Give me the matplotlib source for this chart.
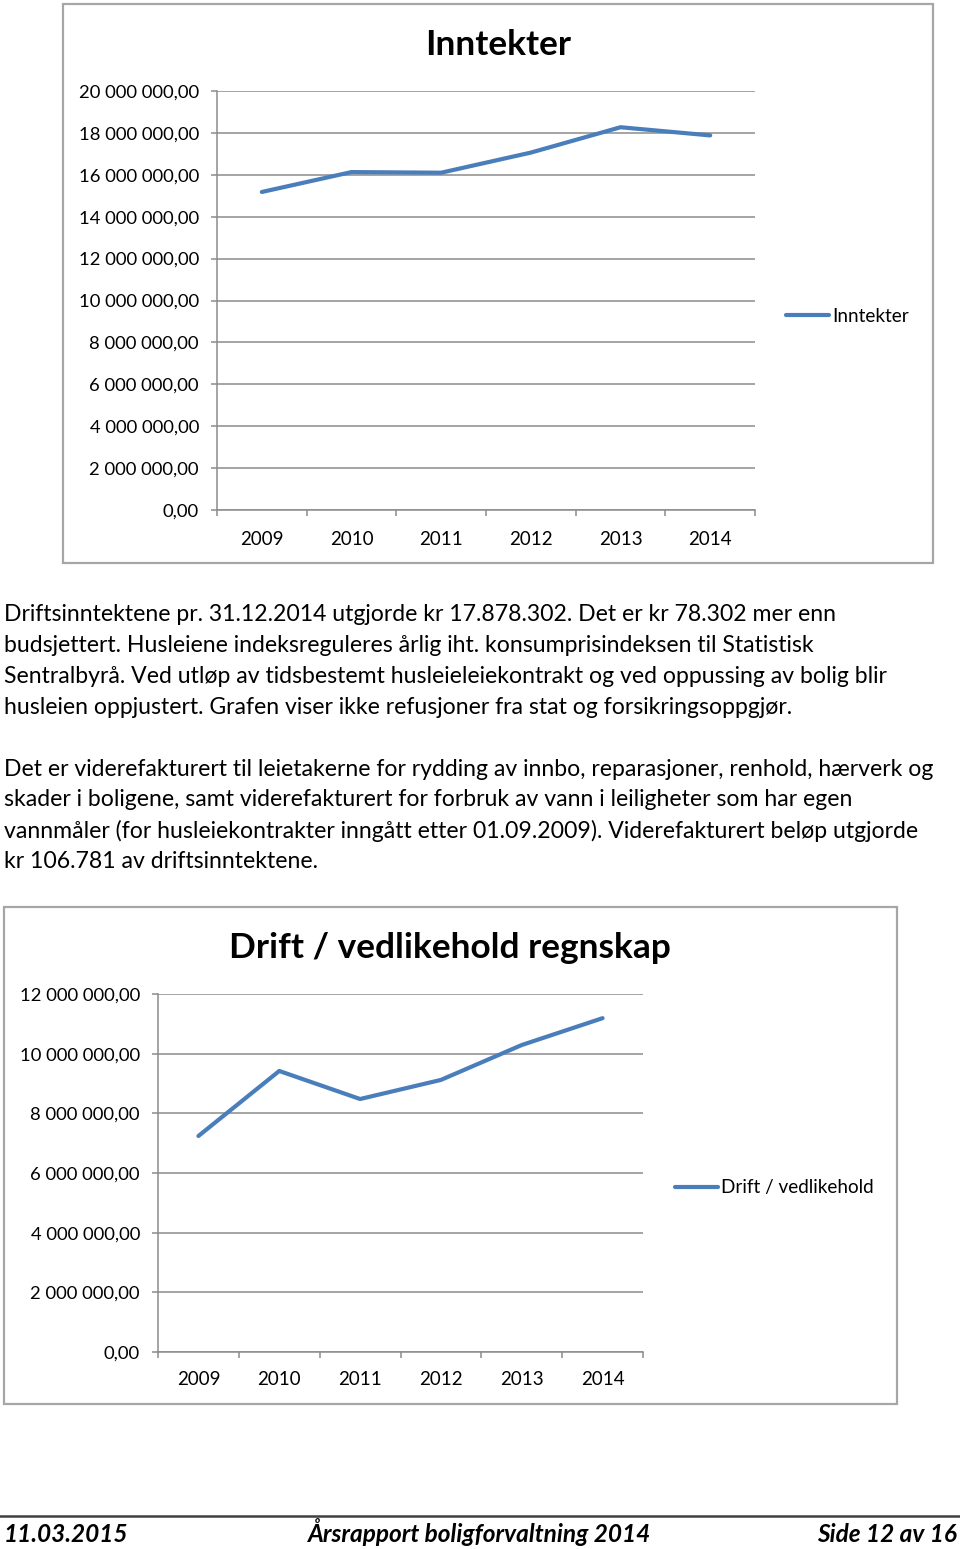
import matplotlib
matplotlib.use("Agg")
import matplotlib.pyplot as plt
from matplotlib.patches import Rectangle
from matplotlib.lines import Line2D
from matplotlib.ticker import FuncFormatter, MultipleLocator, FixedLocator

# ---- data ----
years = ["2009", "2010", "2011", "2012", "2013", "2014"]
inntekter = [15.18e6, 16.13e6, 16.10e6, 17.06e6, 18.27e6, 17.88e6]
drift = [7.24e6, 9.42e6, 8.48e6, 9.12e6, 10.29e6, 11.19e6]

para1 = [
    "Driftsinntektene pr. 31.12.2014 utgjorde kr 17.878.302. Det er kr 78.302 mer enn",
    "budsjettert. Husleiene indeksreguleres årlig iht. konsumprisindeksen til Statistisk",
    "Sentralbyrå. Ved utløp av tidsbestemt husleieleiekontrakt og ved oppussing av bolig blir",
    "husleien oppjustert. Grafen viser ikke refusjoner fra stat og forsikringsoppgjør.",
]
para2 = [
    "Det er viderefakturert til leietakerne for rydding av innbo, reparasjoner, renhold, hærverk og",
    "skader i boligene, samt viderefakturert for forbruk av vann i leiligheter som har egen",
    "vannmåler (for husleiekontrakter inngått etter 01.09.2009). Viderefakturert beløp utgjorde",
    "kr 106.781 av driftsinntektene.",
]
footer = ["11.03.2015", "Årsrapport boligforvaltning 2014", "Side 12 av 16"]

W, H = 960, 1549
FONT = ["Lato", "DejaVu Sans"]
plt.rcParams["font.family"] = FONT

fig = plt.figure(figsize=(W / 100, H / 100), dpi=100)
fig.patch.set_facecolor("white")


def fx(x):
    return x / W


def fy(y):
    return 1 - y / H


LINE_C = "#4a7ebb"
GRID_C = "#8c8c8c"


def fmt(v, pos=None):
    s = f"{v:,.2f}"
    s = s.replace(",", " ").replace(".", ",")
    return s


def make_chart(box, plot, ymax, values, title, title_xy, legend_label, legend_xy, xpad):
    bx0, by0, bx1, by1 = box
    fig.add_artist(Rectangle((fx(bx0), fy(by1)), (bx1 - bx0) / W, (by1 - by0) / H,
                             transform=fig.transFigure, fill=False,
                             edgecolor="#a6a6a6", linewidth=1.6))
    l, t, r, b = plot
    ax = fig.add_axes([fx(l), fy(b), (r - l) / W, (b - t) / H])
    x = list(range(len(years)))
    ax.plot(x, values, color=LINE_C, linewidth=3.0, solid_capstyle="round",
            label=legend_label)
    ax.set_xlim(-0.5, len(years) - 0.5)
    ax.set_ylim(0, ymax)
    ax.yaxis.set_major_locator(MultipleLocator(2e6))
    ax.yaxis.set_major_formatter(FuncFormatter(fmt))
    ax.grid(axis="y", color=GRID_C, linewidth=1.1)
    ax.set_axisbelow(True)
    ax.set_xticks(x)
    ax.set_xticklabels(years)
    ax.xaxis.set_minor_locator(FixedLocator([i - 0.5 for i in range(len(years) + 1)]))
    ax.tick_params(axis="x", which="major", length=0, pad=xpad, labelsize=13.5)
    ax.tick_params(axis="x", which="minor", length=4.5, color=GRID_C, width=1.1)
    ax.tick_params(axis="y", length=4.5, color=GRID_C, width=1.1, pad=8.5, labelsize=13.3)
    for s in ["top", "right"]:
        ax.spines[s].set_visible(False)
    for s in ["left", "bottom"]:
        ax.spines[s].set_color(GRID_C)
        ax.spines[s].set_linewidth(1.1)
    fig.text(fx(title_xy[0]), fy(title_xy[1]), title, ha="center", va="center",
             fontsize=25.4, fontweight="bold")
    ax.legend(loc="center left", bbox_to_anchor=(fx(legend_xy[0]), fy(legend_xy[1])),
              bbox_transform=fig.transFigure, frameon=False, fontsize=13.6,
              handlelength=2.3, handletextpad=0.15, borderpad=0, borderaxespad=0)
    return ax


make_chart((63, 4, 933, 563), (217, 91, 755, 510), 20e6, inntekter,
           "Inntekter", (498, 45), "Inntekter", (786, 316), 15)
make_chart((4, 907, 897, 1404), (158, 994, 643, 1352), 12e6, drift,
           "Drift / vedlikehold regnskap", (450, 948), "Drift / vedlikehold", (675, 1188), 14)

# paragraphs
for i, line in enumerate(para1):
    fig.text(fx(4), fy(615 + i * 30.8), line, ha="left", va="center", fontsize=16.6)
for i, line in enumerate(para2):
    fig.text(fx(4), fy(769 + i * 30.8), line, ha="left", va="center", fontsize=16.6)

# footer
fig.add_artist(Line2D([0, 1], [fy(1516), fy(1516)], transform=fig.transFigure,
                      color="#404040", linewidth=1.8))
fig.text(fx(4), fy(1542), footer[0], ha="left", va="baseline", fontsize=17.6,
         fontweight="bold", fontstyle="italic")
fig.text(fx(480), fy(1542), footer[1], ha="center", va="baseline", fontsize=17.6,
         fontweight="bold", fontstyle="italic")
fig.text(fx(957), fy(1542), footer[2], ha="right", va="baseline", fontsize=17.6,
         fontweight="bold", fontstyle="italic")

fig.savefig("out.png", dpi=100, facecolor="white")
